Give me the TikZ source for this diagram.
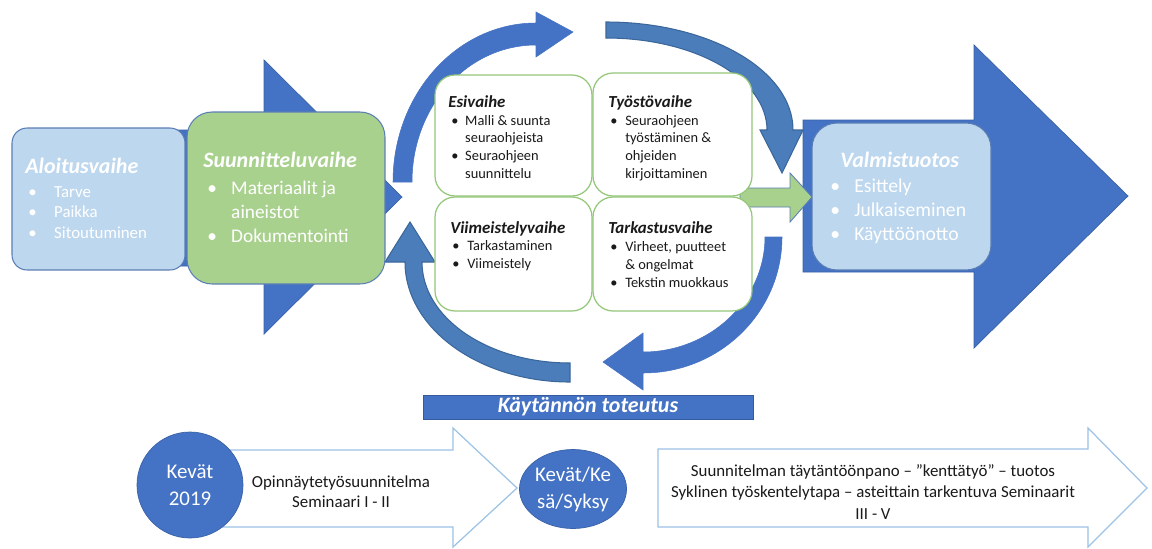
\documentclass[tikz,border=0pt]{standalone}
\usepackage{fontspec}
\setmainfont{Carlito}
\usetikzlibrary{shapes.geometric}
\definecolor{mblue}{HTML}{4472C4}
\definecolor{sblue}{HTML}{4A7DBA}
\definecolor{sbord}{HTML}{3B669A}
\definecolor{lblue}{HTML}{BDD7EE}
\definecolor{lgreen}{HTML}{A9D18E}
\definecolor{gbord}{HTML}{95C77A}
\definecolor{bbord}{HTML}{5B7FB5}
\definecolor{oblue}{HTML}{9DC3E6}
\definecolor{txt}{HTML}{1A1A1A}
\newcommand\bl[2]{\makebox[#1][l]{\textbullet}#2}
\newcommand\cl[2]{\hspace*{#1}#2}
\begin{document}
\begin{tikzpicture}[x=0.02cm,y=-0.02cm,
  bigarrow/.style={fill=mblue,draw=mblue!85!black,line width=0.4pt},
  curvA/.style={fill=mblue,draw=mblue,line width=0.3pt},
  curvB/.style={fill=sblue,draw=sbord,line width=0.6pt},
  phase/.style={draw=bbord,line width=0.6pt,inner sep=0,outer sep=0},
  cbox/.style={draw=gbord,fill=white,line width=0.7pt,rounded corners=0.4cm,inner sep=0,outer sep=0},
  ttlw/.style={anchor=base west,inner sep=0,text=white,font=\fontsize{12.5}{15}\selectfont\bfseries\itshape},
  ttlc/.style={anchor=base west,inner sep=0,text=txt,font=\fontsize{9.6}{11}\selectfont\bfseries\itshape},
  lst/.style={anchor=base west,inner sep=0,align=left},
  clst/.style={lst,text=txt,font=\fontsize{8.2}{10}\selectfont},
  outarrow/.style={draw=oblue,fill=white,line width=0.7pt},
  disc/.style={fill=mblue,draw=mblue!85!black,line width=0.4pt,inner sep=0,text=white,align=center,font=\fontsize{11.9}{15.3}\selectfont},
  atext/.style={inner sep=0,align=center,text=txt,font=\fontsize{9.6}{11.6}\selectfont}
]
\useasboundingbox (0,0) rectangle (1152,548);
\fill[white] (0,0) rectangle (1152,548);

% big left arrow
\draw[bigarrow] (30,130) -- (264,130) -- (264,60) -- (402,197) -- (264,334) -- (264,266) -- (30,266) -- cycle;
% big right arrow
\draw[bigarrow] (803,120) -- (974,120) -- (974,45) -- (1128,196) -- (974,348) -- (974,272) -- (803,272) -- cycle;

% curved arrows
\draw[curvA] (393,182) .. controls (393,94) and (457,23) .. (536,23) -- (536,12) -- (573,32) -- (536,57) -- (536,45) .. controls (467.5,45) and (412,106) .. (412,182) -- cycle;
\draw[curvB] (606,22) .. controls (709,22) and (793,70) .. (793,130) -- (803,130) -- (782,173) -- (760,130) -- (767,130) .. controls (767,79) and (695,38) .. (606,38) -- cycle;
\draw[curvA] (782,237) .. controls (782,312) and (720,373) .. (643,373) -- (643,390) -- (603,362) -- (643,333) -- (643,352) .. controls (710,352) and (765,300) .. (765,237) -- cycle;
\draw[curvB] (570,382) .. controls (479,382) and (405,328) .. (405,262) -- (385,262) -- (410,222) -- (435,262) -- (422,262) .. controls (422,318) and (488,363) .. (570,363) -- cycle;

% green arrow
\draw[fill=lgreen,draw=bbord,line width=0.5pt] (740,188) -- (790,188) -- (790,173) -- (812,197) -- (790,222) -- (790,207) -- (740,207) -- cycle;

% phase boxes
\node[phase,fill=lblue,rounded corners=0.3cm,minimum width=3.46cm,minimum height=2.84cm] (alo) at (98.5,199) {};
\node[phase,fill=lgreen,rounded corners=0.5cm,minimum width=3.96cm,minimum height=3.44cm] (suu) at (286,198) {};
\node[phase,fill=lblue,rounded corners=0.5cm,minimum width=3.58cm,minimum height=2.94cm] (val) at (901.5,196.5) {};

\node[ttlw] (alo-t) at (25,173) {Aloitusvaihe};
\node[lst,text=white,font=\fontsize{9.6}{11.6}\selectfont] (alo-l) at (28,238)
  {\bl{14.7pt}{Tarve}\\\bl{14.7pt}{Paikka}\\\bl{14.7pt}{Sitoutuminen}};
\node[ttlw] (suu-t) at (203,167) {Suunnitteluvaihe};
\node[lst,text=white,font=\fontsize{11}{13.6}\selectfont] (suu-l) at (207,242)
  {\bl{13.6pt}{Materiaalit ja}\\\cl{13.6pt}{aineistot}\\\bl{13.6pt}{Dokumentointi}};
\node[ttlw] (val-t) at (840,167) {Valmistuotos};
\node[lst,text=white,font=\fontsize{11.2}{13.6}\selectfont] (val-l) at (830,240)
  {\bl{13.6pt}{Esittely}\\\bl{13.6pt}{Julkaiseminen}\\\bl{13.6pt}{Käyttöönotto}};

% centre boxes
\node[cbox,minimum width=3.14cm,minimum height=2.42cm] (esi) at (513.5,135.5) {};
\node[cbox,minimum width=3.18cm,minimum height=2.46cm] (tyo) at (672.5,134.5) {};
\node[cbox,minimum width=3.14cm,minimum height=2.28cm] (vii) at (513.5,254) {};
\node[cbox,minimum width=3.18cm,minimum height=2.28cm] (tar) at (672.5,254) {};

\node[ttlc] (esi-t) at (448,107) {Esivaihe};
\node[clst] (esi-l) at (451,178)
  {\bl{7.9pt}{Malli \& suunta}\\\cl{7.9pt}{seuraohjeista}\\\bl{7.9pt}{Seuraohjeen}\\\cl{7.9pt}{suunnittelu}};
\node[ttlc] (tyo-t) at (608,107) {Työstövaihe};
\node[clst] (tyo-l) at (610,178)
  {\bl{8.5pt}{Seuraohjeen}\\\cl{8.5pt}{työstäminen \&}\\\cl{8.5pt}{ohjeiden}\\\cl{8.5pt}{kirjoittaminen}};
\node[ttlc] (vii-t) at (450,233) {Viimeistelyvaihe};
\node[clst] (vii-l) at (452,268)
  {\bl{8.5pt}{Tarkastaminen}\\\bl{8.5pt}{Viimeistely}};
\node[ttlc] (tar-t) at (608,233) {Tarkastusvaihe};
\node[clst] (tar-l) at (610,287)
  {\bl{8.5pt}{Virheet, puutteet}\\\cl{8.5pt}{\& ongelmat}\\\bl{8.5pt}{Tekstin muokkaus}};

% practice bar
\node[fill=mblue,draw=mblue!80!black,line width=0.5pt,minimum width=6.6cm,minimum height=0.48cm,inner sep=0,text=white,font=\fontsize{12.5}{15}\selectfont\bfseries\itshape] (kay) at (588,407) {Käytännön toteutus};

% bottom timeline
\draw[outarrow] (200,450) -- (453,450) -- (453,428) -- (517,488) -- (453,547) -- (453,527) -- (200,527) -- cycle;
\node[circle,disc,minimum size=2.12cm] (k19) at (190,485) {Kevät\\2019};
\node[atext] (a1t) at (341,492) {Opinnäytetyösuunnitelma\\Seminaari I - II};

\draw[outarrow] (658,449) -- (1088,449) -- (1088,428) -- (1147,488) -- (1088,547) -- (1088,527) -- (658,527) -- cycle;
\node[ellipse,disc,minimum width=2.04cm,minimum height=1.58cm] (kks) at (573,489) {Kevät/Ke\\sä/Syksy};
\node[atext,font=\fontsize{9.6}{12.2}\selectfont] (a2t) at (873,492) {Suunnitelman täytäntöönpano – ”kenttätyö” – tuotos\\Syklinen työskentelytapa – asteittain tarkentuva Seminaarit\\III - V};
\end{tikzpicture}
\end{document}
